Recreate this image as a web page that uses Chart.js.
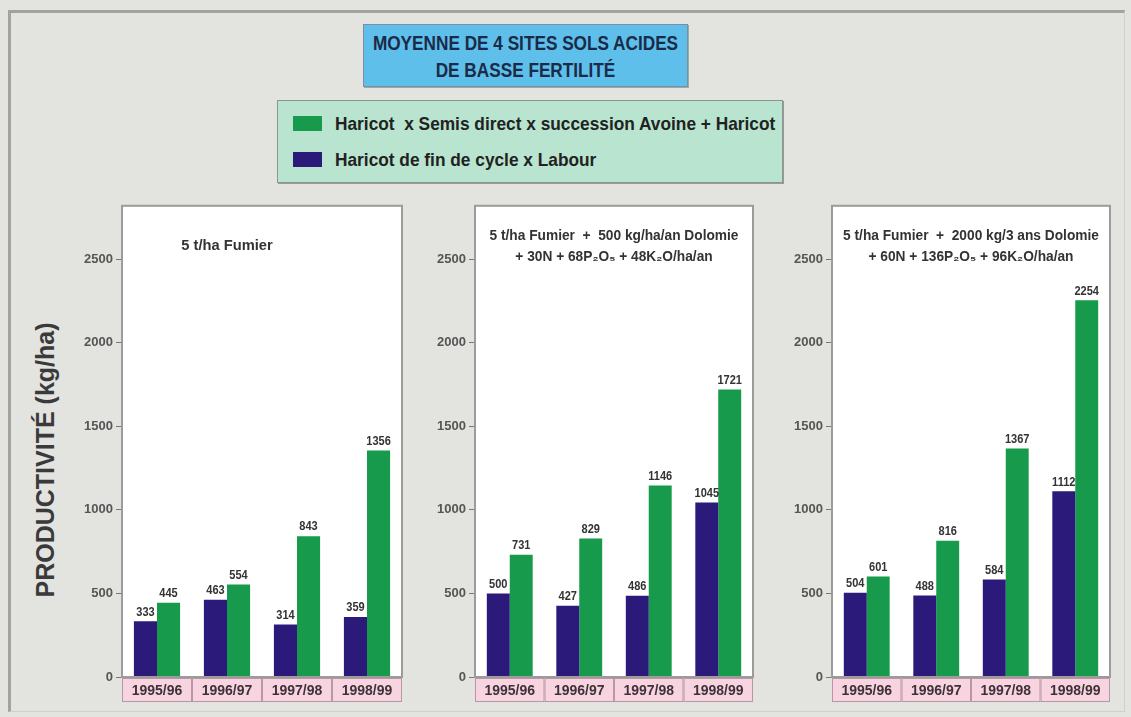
<!DOCTYPE html>
<html><head><meta charset="utf-8">
<script src="https://cdn.jsdelivr.net/npm/chart.js@4.4.1/dist/chart.umd.min.js"></script>
<style>
html,body{margin:0;padding:0;width:1131px;height:717px;overflow:hidden;background:#e3e3df;}
#frame{position:absolute;left:8px;top:10px;width:1113px;height:698px;border-top:3px solid #a2a2a0;border-left:3px solid #a2a2a0;border-right:1px solid #cfcfcb;border-bottom:1px solid #cfcfcb;background:#e3e3df;}
#title{position:absolute;left:363px;top:24px;width:325px;height:63px;background:#5dbfea;border:1px solid #7b8fa0;box-shadow:1px 1px 0 #9aa;font-family:'Liberation Sans',Arial,sans-serif;font-weight:bold;font-size:20px;line-height:27px;color:#1b2a48;text-align:center;padding-top:5px;box-sizing:border-box;}
#title div{white-space:nowrap;transform:scaleX(0.86);margin:0 -80px;}
#legend{position:absolute;left:277px;top:100px;width:506px;height:83px;background:#b9e5d0;border:1px solid #8a968f;box-shadow:1px 1px 0 #999;box-sizing:border-box;font-family:'Liberation Sans',Arial,sans-serif;font-weight:bold;font-size:19px;color:#222;}
.row{position:absolute;left:15px;height:22px;line-height:22px;white-space:pre;}
.sw{display:inline-block;width:29px;height:15px;vertical-align:middle;margin-right:13px;margin-top:-3px;}
.lt{display:inline-block;transform:scaleX(0.91);transform-origin:left center;}
#ytitle{position:absolute;left:45px;top:460px;transform:translate(-50%,-50%) rotate(-90deg);white-space:nowrap;font-family:'Liberation Sans',Arial,sans-serif;font-weight:bold;font-size:25px;color:#3a3a3a;}
canvas{position:absolute;top:195px;}
</style></head>
<body>
<div id="frame"></div>
<div id="title"></div>
<div id="legend"></div>
<div id="ytitle"></div>
<canvas id="c1" width="350" height="520" style="left:62px"></canvas>
<canvas id="c2" width="348" height="520" style="left:415px"></canvas>
<canvas id="c3" width="348" height="520" style="left:772px"></canvas>
<script>
// ---- data ----
const categories = ['1995/96','1996/97','1997/98','1998/99'];
const seriesLabour = 'Haricot de fin de cycle x Labour';
const seriesSemis = 'Haricot  x Semis direct x succession Avoine + Haricot';
const titleLines = ['MOYENNE DE 4 SITES SOLS ACIDES','DE BASSE FERTILITÉ'];
const yAxisTitle = 'PRODUCTIVITÉ (kg/ha)';
const yTickValues = [0,500,1000,1500,2000,2500];

const labourP1 = [333,463,314,359];
const semisP1  = [445,554,843,1356];
const labourP2 = [500,427,486,1045];
const semisP2  = [731,829,1146,1721];
const labourP3 = [504,488,584,1112];
const semisP3  = [601,816,1367,2254];

const subtitleP1 = ['5 t/ha Fumier'];
const subtitleP2 = ['5 t/ha Fumier  +  500 kg/ha/an Dolomie','+ 30N + 68P₂O₅ + 48K₂O/ha/an'];
const subtitleP3 = ['5 t/ha Fumier  +  2000 kg/3 ans Dolomie','+ 60N + 136P₂O₅ + 96K₂O/ha/an'];

// ---- styles ----
const COL_LABOUR = '#2b1a7a';
const COL_SEMIS = '#179a4b';
const SANS = "'Liberation Sans',Arial,sans-serif";

document.getElementById('title').innerHTML = titleLines.map(t => '<div>'+t+'</div>').join('');
document.getElementById('ytitle').textContent = yAxisTitle;
document.getElementById('legend').innerHTML =
  '<div class="row" style="top:12px"><span class="sw" style="background:'+COL_SEMIS+'"></span><span class="lt">'+seriesSemis+'</span></div>'+
  '<div class="row" style="top:48px"><span class="sw" style="background:'+COL_LABOUR+'"></span><span class="lt">'+seriesLabour+'</span></div>';

function condensedText(ctx, text, x, y, sx){
  ctx.save();
  ctx.translate(x, y);
  ctx.scale(sx, 1);
  ctx.fillText(text, 0, 0);
  ctx.restore();
}

const panelDecor = {
  id:'panelDecor',
  beforeDraw(chart, args, opts){
    const ctx = chart.ctx, a = chart.chartArea, x = chart.scales.x;
    ctx.save();
    ctx.fillStyle = '#ffffff';
    ctx.fillRect(a.left, a.top, a.right-a.left, a.bottom-a.top);
    const cw = (a.right-a.left)/categories.length;
    for(let i=0;i<categories.length;i++){
      const cx = x.getPixelForValue(i);
      ctx.fillStyle = '#f7d4e0';
      ctx.fillRect(cx-cw/2, a.bottom+1, cw, 24);
      ctx.strokeStyle = '#b797a2';
      ctx.lineWidth = 1;
      ctx.strokeRect(cx-cw/2+0.5, a.bottom+1.5, cw-1, 23);
    }
    ctx.restore();
  },
  afterDatasetsDraw(chart, args, opts){
    const ctx = chart.ctx, a = chart.chartArea;
    ctx.save();
    ctx.font = 'bold 12px '+SANS;
    ctx.fillStyle = '#333';
    ctx.textAlign = 'center';
    ctx.textBaseline = 'bottom';
    chart.data.datasets.forEach((ds, di) => {
      chart.getDatasetMeta(di).data.forEach((bar, i) => {
        condensedText(ctx, String(ds.data[i]), bar.x, bar.y-3, 0.92);
      });
    });
    ctx.strokeStyle = '#9b9b9b';
    ctx.lineWidth = 2;
    ctx.strokeRect(a.left, a.top, a.right-a.left, a.bottom-a.top);
    ctx.font = 'bold 14px '+SANS;
    ctx.fillStyle = '#333';
    ctx.textBaseline = 'middle';
    ctx.textAlign = 'center';
    opts.lines.forEach((t, k) => {
      condensedText(ctx, t, a.left + opts.cx, a.top + opts.y0 + k*21, opts.sx);
    });
    ctx.restore();
  }
};

function makeChart(id, labour, semis, lines, cx, y0, sx){
  return new Chart(document.getElementById(id), {
    type:'bar',
    data:{labels:categories, datasets:[
      {label:seriesLabour, data:labour, backgroundColor:COL_LABOUR, borderWidth:0},
      {label:seriesSemis, data:semis, backgroundColor:COL_SEMIS, borderWidth:0}
    ]},
    options:{
      responsive:false, animation:false,
      layout:{padding:{left:0,right:10,top:10,bottom:8}},
      plugins:{legend:{display:false}, tooltip:{enabled:false}, panelDecor:{lines:lines, cx:cx, y0:y0, sx:sx}},
      datasets:{bar:{categoryPercentage:0.66, barPercentage:1.0}},
      scales:{
        x:{grid:{display:false}, border:{display:false},
           ticks:{font:{family:SANS, weight:'bold', size:14}, color:'#3e3238', padding:-2, maxRotation:0, autoSkip:false},
           afterFit(s){ s.height = 30; }},
        y:{min:0, max:2820,
           afterBuildTicks(s){ s.ticks = yTickValues.map(v => ({value:v})); },
           grid:{drawOnChartArea:false, drawTicks:true, tickLength:6, color:'#777', lineWidth:1},
           border:{display:false},
           ticks:{font:{family:SANS, weight:'bold', size:13}, color:'#555', padding:3, callback:(v) => String(v)},
           afterFit(s){ s.width = 60; }}
      }
    },
    plugins:[panelDecor]
  });
}
makeChart('c1', labourP1, semisP1, subtitleP1, 105, 40, 1.05);
makeChart('c2', labourP2, semisP2, subtitleP2, 139, 30, 0.98);
makeChart('c3', labourP3, semisP3, subtitleP3, 139, 30, 0.98);
</script>
</body></html>
